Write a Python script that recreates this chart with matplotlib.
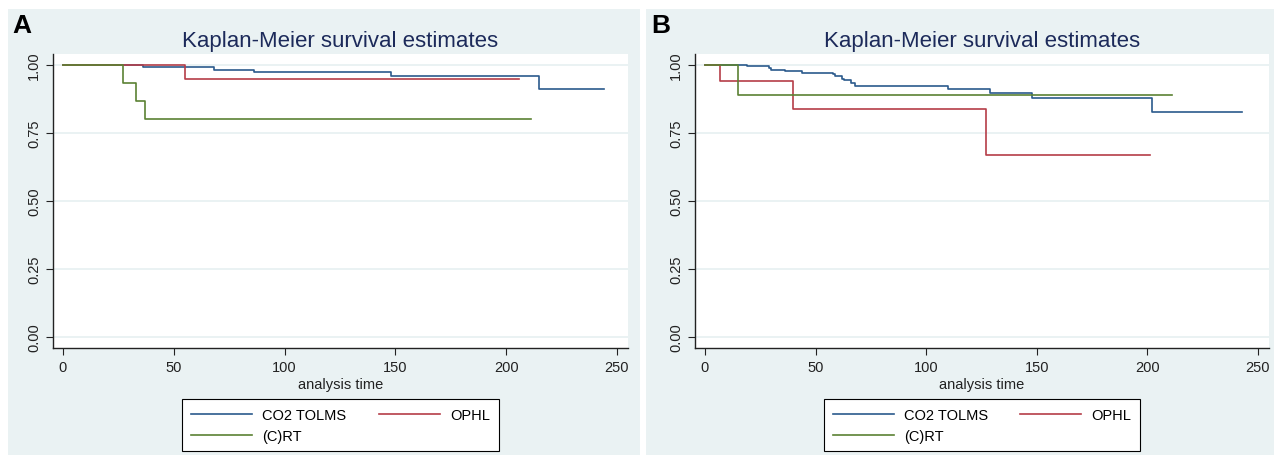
import matplotlib.pyplot as plt
from matplotlib.patches import Rectangle
from matplotlib.lines import Line2D

plt.rcParams['font.family'] = ['Liberation Sans', 'DejaVu Sans']

# Panel A: follow-up times and survival estimates per group
tolms_a_t = [0, 36, 68, 86, 148, 215, 244]
tolms_a_s = [1.0, 0.994, 0.983, 0.975, 0.961, 0.912, 0.912]
ophl_a_t = [0, 55, 206]
ophl_a_s = [1.0, 0.947, 0.947]
crt_a_t = [0, 27, 33, 37, 211]
crt_a_s = [1.0, 0.933, 0.867, 0.800, 0.800]

# Panel B
tolms_b_t = [0, 19, 29, 30, 36, 44, 58, 59, 62, 63, 66, 68, 110, 129, 148, 202, 243]
tolms_b_s = [1.0, 0.996, 0.988, 0.983, 0.977, 0.972, 0.966, 0.958, 0.950, 0.944,
             0.935, 0.923, 0.912, 0.898, 0.880, 0.827, 0.827]
ophl_b_t = [0, 7, 40, 127, 201]
ophl_b_s = [1.0, 0.941, 0.837, 0.669, 0.669]
crt_b_t = [0, 15, 211]
crt_b_s = [1.0, 0.889, 0.889]

group_names = ['CO2 TOLMS', 'OPHL', '(C)RT']
group_colors = ['#2b5a8c', '#b53d48', '#5b8133']
x_ticks = [0, 50, 100, 150, 200, 250]
y_ticks = [0.0, 0.25, 0.50, 0.75, 1.00]
y_ticklabels = ['0.00', '0.25', '0.50', '0.75', '1.00']

W, H = 1274, 456
BG = '#eaf2f3'

fig = plt.figure(figsize=(W / 100, H / 100), dpi=100)

def px_box(x0, y0, x1, y1):
    # pixel box (top-left origin) -> figure fraction rect
    return [x0 / W, 1 - y1 / H, (x1 - x0) / W, (y1 - y0) / H]

# panel backgrounds
for x0, x1 in [(8, 640), (646, 1274)]:
    r = px_box(x0, 10, x1, 456)
    fig.patches.append(Rectangle((r[0], r[1]), r[2], r[3], transform=fig.transFigure,
                                 facecolor=BG, edgecolor='none', zorder=-10))


def km_panel(rect, series, letter, letter_x):
    ax = fig.add_axes(px_box(*rect))
    ax.set_facecolor('white')
    for (t, s), c in zip(series, group_colors):
        ax.step(t, s, where='post', color=c, lw=1.2)
    ax.set_xlim(-4.5, 255)
    ax.set_ylim(-0.04, 1.04)
    ax.set_xticks(x_ticks)
    ax.set_yticks(y_ticks)
    ax.set_yticklabels(y_ticklabels, rotation=90, va='center')
    ax.tick_params(labelsize=10.5, length=5, width=0.8, colors='#222222')
    for y in y_ticks:
        ax.axhline(y, color=BG, lw=1.4, zorder=0)
    for side in ['top', 'right']:
        ax.spines[side].set_visible(False)
    for side in ['left', 'bottom']:
        ax.spines[side].set_color('#222222')
        ax.spines[side].set_linewidth(1.0)
    ax.set_xlabel('analysis time', fontsize=10.5, labelpad=2, color='#222222')
    ax.set_title('Kaplan-Meier survival estimates', fontsize=16, color='#1c2a5a', pad=6)
    # column-major fill: gives CO2 TOLMS | OPHL on row 1, (C)RT on row 2
    order = [0, 2, 1]
    handles = [Line2D([], [], color=group_colors[i], lw=1.2) for i in order]
    labels = [group_names[i] for i in order]
    leg = ax.legend(handles, labels, ncol=2, loc='upper center',
                    bbox_to_anchor=(0.5, -0.15), fontsize=10.5, frameon=True,
                    fancybox=False, edgecolor='black', framealpha=1,
                    handlelength=4.2, handletextpad=0.7, columnspacing=2.2,
                    labelspacing=0.45, borderpad=0.6)
    leg.get_frame().set_linewidth(0.8)
    fig.text(letter_x / W, 1 - 26 / H, letter, fontsize=19, fontweight='bold',
             va='center', ha='left')
    return ax


km_panel((53, 55, 628, 349),
         [(tolms_a_t, tolms_a_s), (ophl_a_t, ophl_a_s), (crt_a_t, crt_a_s)], 'A', 12)
km_panel((695, 55, 1269, 349),
         [(tolms_b_t, tolms_b_s), (ophl_b_t, ophl_b_s), (crt_b_t, crt_b_s)], 'B', 651)

fig.savefig('out.png', dpi=100, facecolor='white')
